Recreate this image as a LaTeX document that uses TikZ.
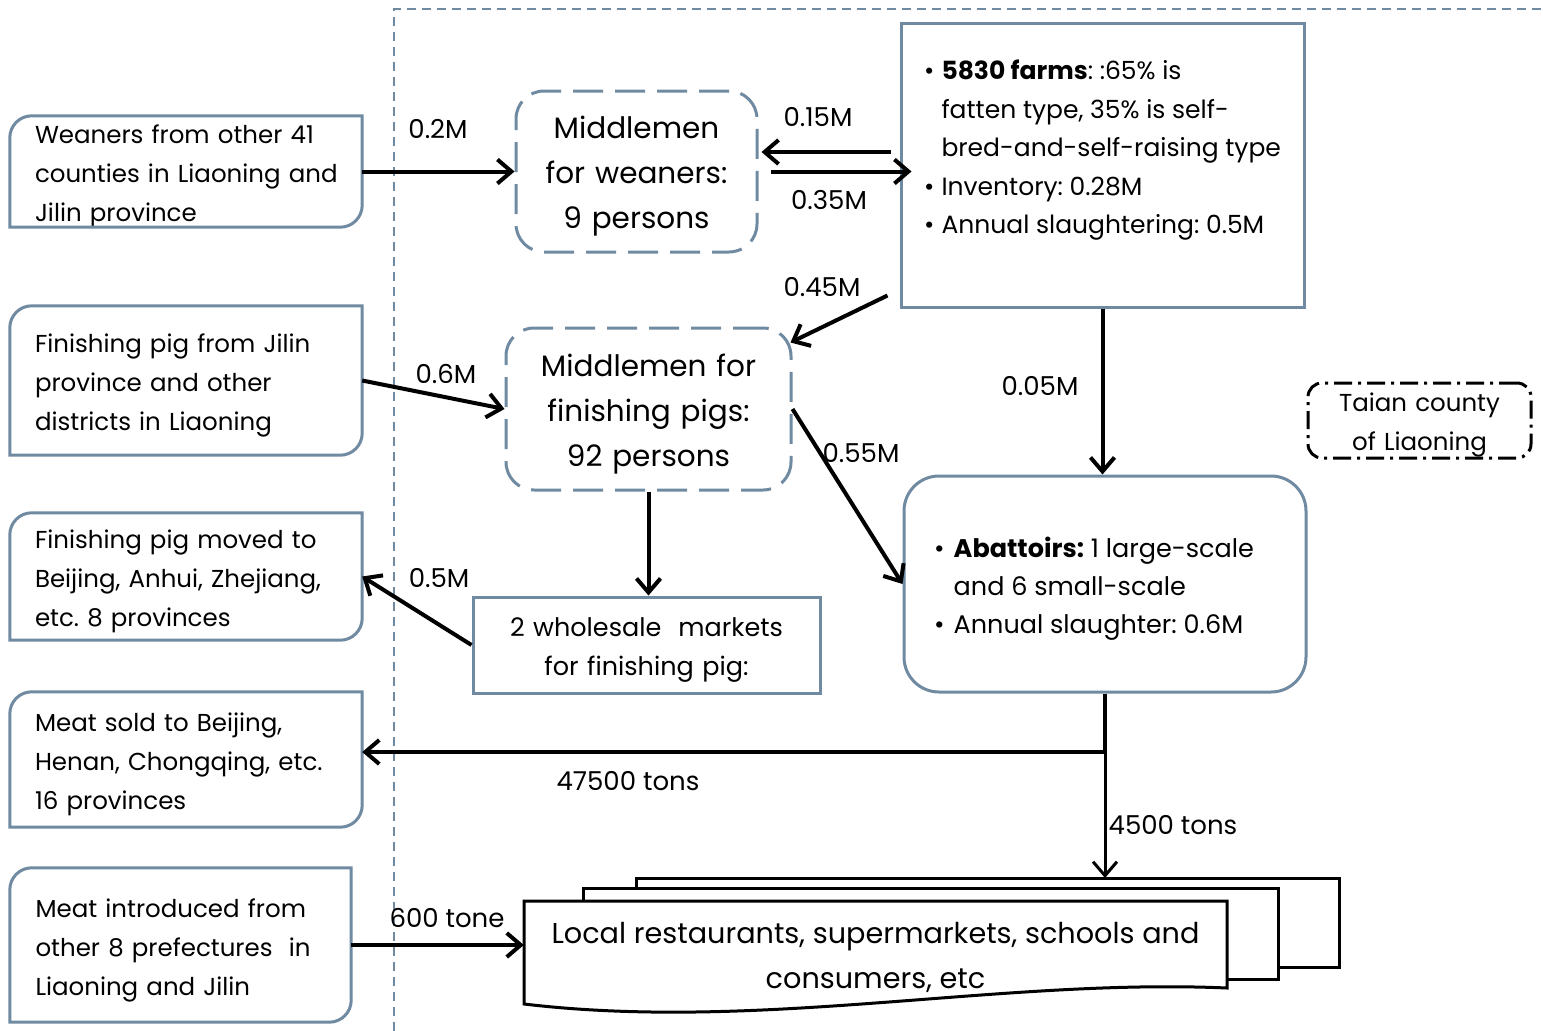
\documentclass[tikz,border=0pt]{standalone}
\usepackage{fontspec}
\setmainfont{Poppins}
\usetikzlibrary{positioning, arrows.meta}

\definecolor{boxblue}{RGB}{111,138,161}

% frame with a rounded top left and bottom right corner
\newcommand{\tabframe}[1]{%
  \draw[frame] (#1.south west) -- ([yshift=-22pt]#1.north west)
    arc[start angle=180, end angle=90, radius=22pt] -- (#1.north east)
    -- ([yshift=22pt]#1.south east)
    arc[start angle=0, end angle=-90, radius=22pt] -- cycle;}

\begin{document}
\frenchspacing
\begin{tikzpicture}[x=1pt, y=-1pt]
    % Styles
    \tikzstyle{frame} = [draw=boxblue, line width=3pt]
    \tikzstyle{source} = [minimum width=352pt, text width=302pt, inner xsep=25pt, inner ysep=0pt, text height=22pt, text depth=78pt, align=left, font=\fontsize{24.5}{39}\selectfont]
    \tikzstyle{middle} = [frame, dash pattern=on 30pt off 12pt, rounded corners=28pt, inner sep=0pt, text width=230pt, text height=23pt, text depth=90pt, align=center, font=\fontsize{29.5}{45}\selectfont]
    \tikzstyle{plainbox} = [frame, inner sep=0pt, align=center, font=\fontsize{25.5}{39}\selectfont]
    \tikzstyle{listtext} = [anchor=west, inner sep=0pt, font=\fontsize{25}{38.5}\selectfont]
    \tikzstyle{amount} = [inner sep=0pt, font=\fontsize{26}{30}\selectfont]
    \tikzstyle{flow} = [-{Straight Barb[length=14pt, width=24pt]}, line width=4pt]
    \tikzstyle{doc} = [draw=black, line width=3pt, fill=white]

    \useasboundingbox (0,0) rectangle (1543,1031);

    % County boundary
    \draw[boxblue, line width=1.5pt, dash pattern=on 9pt off 6pt] (394,1031) -- (394,9) -- (1543,9);

    % Sources and destinations outside the county
    \node[source, minimum height=111pt] (src1) at (186,171.5) {Weaners from other 41\\\mbox{counties in Liaoning and}\\Jilin province};
    \node[source, minimum height=149pt] (src2) at (186,380.5) {Finishing pig from Jilin\\province and other\\districts in Liaoning};
    \node[source, minimum height=127pt] (src3) at (186,576.5) {Finishing pig moved to\\\mbox{Beijing, Anhui, Zhejiang,}\\etc. 8 provinces};
    \node[source, minimum height=135pt] (src4) at (186,759.5) {Meat sold to Beijing,\\Henan, Chongqing, etc.\\16 provinces};
    \node[source, minimum width=341pt, text width=290pt, inner xsep=25.5pt, minimum height=154pt] (src5) at (180.5,945) {Meat introduced from\\other 8 prefectures~ in\\Liaoning and Jilin};
    \tabframe{src1}
    \tabframe{src2}
    \tabframe{src3}
    \tabframe{src4}
    \tabframe{src5}

    % Actors inside the county
    \node[middle, minimum width=241pt, minimum height=161pt] (mw) at (636.5,171.5) {Middlemen\\for weaners:\\9 persons};
    \node[middle, text width=270pt, text height=24pt, minimum width=285pt, minimum height=162pt] (mf) at (648.5,409) {Middlemen for\\finishing pigs:\\92 persons};
    \node[plainbox, minimum width=403pt, minimum height=284pt] (farms) at (1102.5,165) {};
    \node[listtext] (farmstext) at (924,149) {\begin{tabular}{@{}l@{\hspace{7pt}}l@{}}
        \textbullet & \textbf{5830 farms}: :65\% is\\
                    & fatten type, 35\% is self-\\
                    & bred-and-self-raising type\\
        \textbullet & Inventory: 0.28M\\
        \textbullet & Annual slaughtering: 0.5M
      \end{tabular}};
    \node[plainbox, rounded corners=35pt, minimum width=402pt, minimum height=216pt] (abat) at (1105,584) {};
    \node[listtext, font=\fontsize{25.5}{38}\selectfont] (abattext) at (934,588) {\begin{tabular}{@{}l@{\hspace{9pt}}l@{}}
        \textbullet & \textbf{Abattoirs:} 1 large-scale\\
                    & and 6 small-scale\\
        \textbullet & Annual slaughter: 0.6M
      \end{tabular}};
    \node[plainbox, text width=330pt, text height=21pt, text depth=39pt, minimum width=347pt, minimum height=96pt] (market) at (646.5,645) {2 wholesale~ markets\\for finishing pig:};
    \node[plainbox, draw=black, dash pattern=on 18pt off 6pt on 3pt off 6pt, rounded corners=14pt, text width=210pt, text height=20pt, text depth=39pt, minimum width=223pt, minimum height=75pt, font=\fontsize{24.5}{39}\selectfont] (taian) at (1419.5,420.5) {Taian county\\of Liaoning};

    % Local consumers (stacked documents)
    \draw[doc] (636,878) rectangle (1339,967);
    \draw[doc] (583,888) rectangle (1278,979);
    \draw[doc] (524,901) -- (1227,901) -- (1227,988)
      .. controls (1000,978) and (760,1032) .. (524,1004) -- cycle;
    \node[inner sep=0pt, minimum width=703pt, align=center, font=\fontsize{28.7}{45}\selectfont] (local) at (875.5,957) {Local restaurants, supermarkets, schools and\\consumers, etc};

    \coordinate (split) at (1105,752);
    \coordinate (stack) at (1105,878);

    % Flows
    \draw[flow] (src1.east) -- (mw.west);
    \draw[flow] ([xshift=-9pt, yshift=13pt]farms.west) -- ([xshift=3pt, yshift=19.5pt]mw.east);
    \draw[flow] ([xshift=12pt]mw.east) -- ([xshift=12pt]mw.east -| farms.west);
    \draw[flow] ([xshift=-12pt, yshift=13pt]farms.south west) -- ([xshift=-2pt, yshift=-16pt]mf.north east);
    \draw[flow] (src2.east) -- (mf.west);
    \draw[flow] (mf.east) -- (abat.west);
    \draw[flow] (mf.south) -- (mf.south |- market.north);
    \draw[flow] (market.west) -- (src3.east);
    \draw[flow] (farms.south) -- (farms.south |- abat.north);
    \draw[flow] (abat.south) -- (split) -- (split -| src4.east);
    \draw[flow, line width=3pt] (split) -- (stack);
    \draw[flow] (src5.east) -- (src5.east -| local.west);

    % Amounts
    \node[amount] (a1) at (438,129) {0.2M};
    \node[amount] (a2) at (818,117) {0.15M};
    \node[amount] (a3) at (829,200) {0.35M};
    \node[amount] (a4) at (822,287) {0.45M};
    \node[amount] (a5) at (446,374) {0.6M};
    \node[amount] (a6) at (861,453) {0.55M};
    \node[amount] (a7) at (439,578) {0.5M};
    \node[amount] (a8) at (1040,386) {0.05M};
    \node[amount] (a9) at (628,781) {47500 tons};
    \node[amount] (a10) at (1173,825) {4500 tons};
    \node[amount] (a11) at (447,918) {600 tone};
\end{tikzpicture}
\end{document}
